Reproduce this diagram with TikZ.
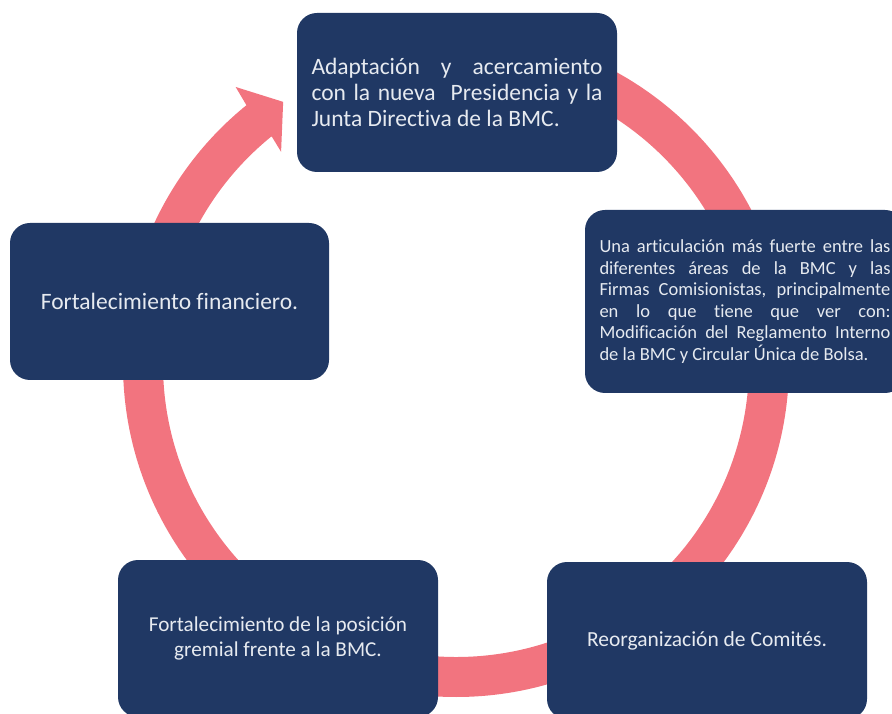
\documentclass[tikz,border=0pt]{standalone}
\usepackage{fontspec}
\setmainfont{Carlito}[Ligatures=NoCommon]
\usepackage{tikz}
\usepackage{xcolor}
\definecolor{navy}{HTML}{203864}
\definecolor{ringpink}{HTML}{F2747F}
\definecolor{boxtext}{HTML}{E6EAF0}
\tikzset{
  stage/.style={fill=navy,rounded corners=20pt,text=boxtext,inner sep=0pt,
    minimum width=320pt,minimum height=157pt},
  ringarrow/.style={fill=ringpink}
}

\begin{document}
\begin{tikzpicture}[x=1pt,y=1pt]
  \useasboundingbox (0,0) rectangle (892,713);
  \clip (0,0) rectangle (892,713);
  \def\Ro{333pt}
  \def\Ri{293pt}
  \def\Rm{314pt}
  \def\Rb{354pt}
  \def\Rc{275pt}
  \coordinate (O) at (456,349);
  % ring
  \fill[ringarrow] ([shift={(O)}]90:\Ro) arc[start angle=90,end angle=-231,radius=\Ro]
    -- ([shift={(O)}]-231.5:\Rb) -- ([shift={(O)}]-236.6:\Rm) -- ([shift={(O)}]-230.5:\Rc)
    -- ([shift={(O)}]-231:\Ri) arc[start angle=-231,end angle=90,radius=\Ri] -- cycle;
  % boxes
  \node[stage,minimum height=159pt,text width=291pt,align=justify,font=\fontsize{23.5}{26}\selectfont]
    (adapt) at (457,620.5) {Adaptación y acercamiento\linebreak con la nueva~ Presidencia y la\linebreak Junta Directiva de la BMC.};
  \node[stage,minimum height=183pt,text width=291pt,align=justify,font=\fontsize{18.5}{21.6}\selectfont]
    (artic) at (745,411.5) {Una articulación más fuerte entre las\linebreak diferentes áreas de la BMC y las\linebreak Firmas Comisionistas, principalmente\linebreak en lo que tiene que ver con:\linebreak Modificación del Reglamento Interno\linebreak de la BMC y Circular Única de Bolsa.};
  \node[stage,align=center,font=\fontsize{21.5}{25}\selectfont]
    (comites) at (707,72.5) {Reorganización de Comités.};
  \node[stage,align=center,font=\fontsize{21.2}{25}\selectfont]
    (gremial) at (278,74.5) {Fortalecimiento de la posición\\ gremial frente a la BMC.};
  \node[stage,minimum width=319pt,align=center,font=\fontsize{23.5}{26}\selectfont]
    (finan) at (169.5,411.5) {Fortalecimiento financiero.};
\end{tikzpicture}
\end{document}
